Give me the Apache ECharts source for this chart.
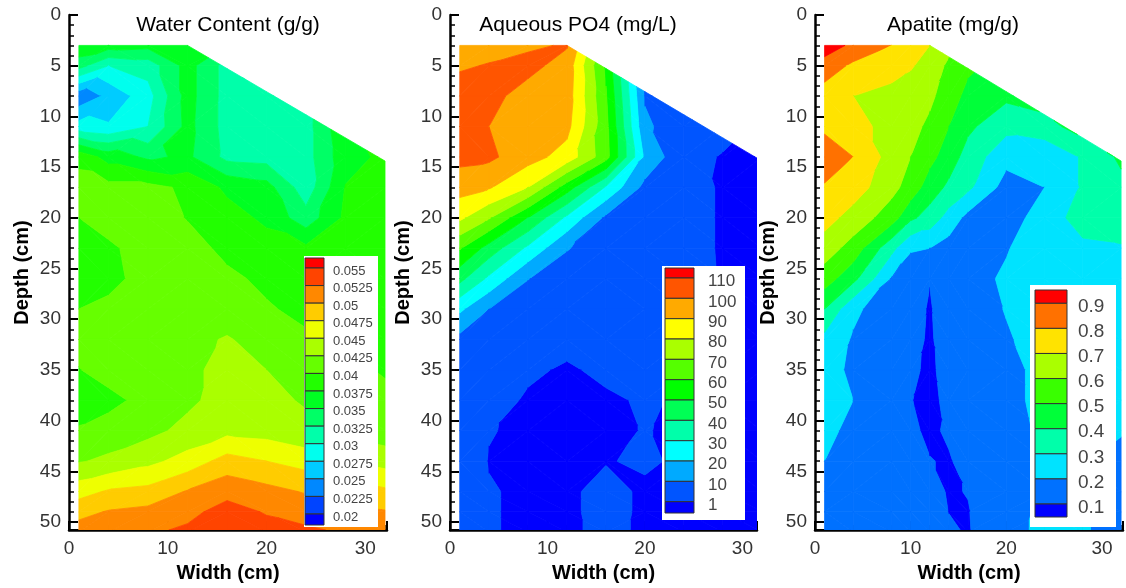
<!DOCTYPE html>
<html><head><meta charset="utf-8">
<script src="https://cdn.jsdelivr.net/npm/echarts@6/dist/echarts.min.js"></script>
<style>html,body{margin:0;padding:0;background:#fff}#c{width:1126px;height:588px}</style>
</head><body><div id="c"></div>
<script>
// ---------- data ----------
const X_NODES = [1, 4, 8, 12, 16, 20, 24, 28, 32];
const APATITE_X_NODES = [1, 4, 8, 10, 12, 14, 16, 20, 24, 28, 32];
const Y_NODES = [3, 5, 8, 11, 14, 17, 20, 23, 26, 29, 32, 35, 38, 41, 44, 47, 49, 51];

const WATER_LEVELS = [0.02, 0.0225, 0.025, 0.0275, 0.03, 0.0325, 0.035, 0.0375, 0.04, 0.0425, 0.045, 0.0475, 0.05, 0.0525, 0.055];
const WATER = [
  [0.0370, 0.0362, 0.0358, 0.0365, 0.0350, 0.0340, 0.0350, 0.0365, 0.0370],
  [0.0335, 0.0300, 0.0310, 0.0360, 0.0315, 0.0315, 0.0340, 0.0368, 0.0370],
  [0.0232, 0.0256, 0.0290, 0.0360, 0.0315, 0.0315, 0.0315, 0.0370, 0.0372],
  [0.0285, 0.0278, 0.0300, 0.0358, 0.0315, 0.0315, 0.0315, 0.0372, 0.0375],
  [0.0393, 0.0365, 0.0345, 0.0355, 0.0318, 0.0315, 0.0315, 0.0366, 0.0380],
  [0.0410, 0.0408, 0.0408, 0.0395, 0.0370, 0.0360, 0.0310, 0.0376, 0.0382],
  [0.0400, 0.0410, 0.0410, 0.0399, 0.0385, 0.0370, 0.0335, 0.0380, 0.0385],
  [0.0390, 0.0396, 0.0410, 0.0408, 0.0395, 0.0385, 0.0380, 0.0385, 0.0385],
  [0.0390, 0.0394, 0.0408, 0.0412, 0.0404, 0.0396, 0.0390, 0.0390, 0.0390],
  [0.0400, 0.0405, 0.0415, 0.0415, 0.0412, 0.0402, 0.0395, 0.0393, 0.0393],
  [0.0408, 0.0415, 0.0416, 0.0418, 0.0427, 0.0415, 0.0403, 0.0396, 0.0395],
  [0.0399, 0.0410, 0.0413, 0.0420, 0.0432, 0.0425, 0.0415, 0.0405, 0.0398],
  [0.0390, 0.0393, 0.0408, 0.0420, 0.0435, 0.0430, 0.0423, 0.0413, 0.0405],
  [0.0402, 0.0410, 0.0418, 0.0432, 0.0443, 0.0440, 0.0430, 0.0418, 0.0410],
  [0.0423, 0.0430, 0.0443, 0.0460, 0.0485, 0.0475, 0.0465, 0.0450, 0.0440],
  [0.0465, 0.0478, 0.0483, 0.0502, 0.0517, 0.0508, 0.0498, 0.0485, 0.0480],
  [0.0492, 0.0502, 0.0507, 0.0518, 0.0535, 0.0523, 0.0515, 0.0505, 0.0502],
  [0.0512, 0.0518, 0.0522, 0.0530, 0.0542, 0.0535, 0.0530, 0.0523, 0.0515]
];

const PO4_LEVELS = [1, 10, 20, 30, 40, 50, 60, 70, 80, 90, 100, 110];
const PO4 = [
  [95, 97, 98.5, 100.8, 45, 8, 5, 2, 0.5],
  [99, 100.5, 103, 96, 58, 7, 4, 2, 0.5],
  [104, 103, 96, 95, 61, 9, 4, 2, 0.5],
  [104, 100, 95, 93, 63, 12, 3, 2, 0.5],
  [103, 102, 94, 86, 64, 18, 2, 0.8, 0.5],
  [94, 91, 80, 55, 29, 7, 2.5, 0.6, 0.4],
  [82, 71, 50, 28, 8, 4.5, 2.5, 0.6, 0.4],
  [61, 46, 28, 10.5, 5.5, 4, 2.5, 0.6, 0.4],
  [43, 28, 10.2, 5.5, 5, 4.5, 2.5, 0.7, 0.4],
  [22, 10, 6, 5, 5, 4.5, 2.5, 0.8, 0.4],
  [7, 6, 4.5, 2.5, 4, 4, 2, 0.8, 0.4],
  [5, 4.5, 1.8, 0.4, 2.0, 3.5, 1.5, 0.6, 0.4],
  [5, 3, 0.4, 0.3, 0.3, 1.5, 0.5, 0.4, 0.4],
  [5, 1.2, 0.3, 0.2, 0.3, 1.15, 0.4, 0.4, 0.4],
  [4, 0.8, 0.3, 0.3, 0.8, 1.5, 0.4, 0.4, 0.4],
  [4, 1.3, 0.3, 0.3, 2.2, 0.4, 0.4, 0.4, 0.4],
  [4, 1.3, 0.3, 0.3, 2.2, 0.4, 0.4, 0.4, 0.4],
  [4, 1.3, 0.3, 0.3, 2.0, 0.4, 0.4, 0.4, 0.4]
];

const APATITE_LEVELS = [0.1, 0.2, 0.3, 0.4, 0.5, 0.6, 0.7, 0.8, 0.9];
const APATITE = [
  [0.95, 0.88, 0.80, 0.75, 0.70, 0.63, 0.58, 0.50, 0.46, 0.45, 0.45],
  [0.86, 0.78, 0.74, 0.71, 0.66, 0.58, 0.52, 0.46, 0.45, 0.45, 0.45],
  [0.75, 0.70, 0.67, 0.65, 0.62, 0.55, 0.47, 0.42, 0.45, 0.45, 0.45],
  [0.78, 0.74, 0.66, 0.63, 0.58, 0.50, 0.42, 0.33, 0.36, 0.45, 0.46],
  [0.86, 0.80, 0.66, 0.60, 0.53, 0.45, 0.36, 0.23, 0.22, 0.31, 0.42],
  [0.79, 0.75, 0.63, 0.56, 0.45, 0.38, 0.32, 0.16, 0.20, 0.31, 0.37],
  [0.74, 0.66, 0.55, 0.42, 0.36, 0.26, 0.17, 0.15, 0.25, 0.34, 0.36],
  [0.65, 0.56, 0.33, 0.21, 0.20, 0.16, 0.14, 0.19, 0.29, 0.28, 0.29],
  [0.55, 0.43, 0.19, 0.14, 0.102, 0.14, 0.15, 0.22, 0.26, 0.27, 0.26],
  [0.40, 0.22, 0.14, 0.12, 0.095, 0.13, 0.15, 0.205, 0.25, 0.26, 0.26],
  [0.27, 0.19, 0.13, 0.12, 0.092, 0.13, 0.15, 0.19, 0.24, 0.26, 0.26],
  [0.24, 0.18, 0.13, 0.11, 0.09, 0.12, 0.14, 0.17, 0.23, 0.25, 0.25],
  [0.25, 0.20, 0.13, 0.102, 0.085, 0.115, 0.15, 0.17, 0.23, 0.25, 0.25],
  [0.23, 0.17, 0.14, 0.11, 0.09, 0.108, 0.14, 0.16, 0.22, 0.24, 0.22],
  [0.20, 0.16, 0.15, 0.13, 0.102, 0.095, 0.12, 0.15, 0.22, 0.22, 0.12],
  [0.17, 0.15, 0.15, 0.14, 0.12, 0.095, 0.102, 0.15, 0.22, 0.22, 0.12],
  [0.16, 0.15, 0.15, 0.145, 0.13, 0.099, 0.097, 0.16, 0.22, 0.22, 0.12],
  [0.16, 0.15, 0.15, 0.15, 0.14, 0.11, 0.095, 0.17, 0.22, 0.22, 0.12]
];

const TITLES = ['Water Content (g/g)', 'Aqueous PO4 (mg/L)', 'Apatite (mg/g)'];
const X_NAME = 'Width (cm)';
const Y_NAME = 'Depth (cm)';
const X_MAX = [32.2, 31.5, 32.2];   // right edge of each sample box (cm)
const Y_MAX = 50.8;                // bottom of the box (cm)
const TOP_DEPTH = 3;               // soil surface depth (cm)
const SLOPE_START_X = 12;          // where the sloped surface starts (cm)
const SLOPE = 0.57;                // surface slope (cm depth per cm width)

// ---------- helpers ----------
const FONT = "'Liberation Sans', Arial, sans-serif";
function rainbow(t) {
  let r, g, b;
  if (t < 0.25) { r = 0; g = t / 0.25; b = 1; }
  else if (t < 0.5) { r = 0; g = 1; b = 1 - (t - 0.25) / 0.25; }
  else if (t < 0.75) { r = (t - 0.5) / 0.25; g = 1; b = 0; }
  else { r = 1; g = 1 - (t - 0.75) / 0.25; b = 0; }
  return 'rgb(' + Math.round(r * 255) + ',' + Math.round(g * 255) + ',' + Math.round(b * 255) + ')';
}
function palette(n) { const c = []; for (let k = 0; k < n; k++) c.push(rainbow(k / (n - 1))); return c; }

function lerp(a, b, t) { return { x: a.x + t * (b.x - a.x), y: a.y + t * (b.y - a.y), v: a.v + t * (b.v - a.v) }; }
function clip(poly, f) {
  const out = [];
  for (let i = 0; i < poly.length; i++) {
    const cur = poly[i], prev = poly[(i + poly.length - 1) % poly.length];
    const fc = f(cur), fp = f(prev);
    if (fc >= 0) {
      if (fp < 0) out.push(lerp(prev, cur, fp / (fp - fc)));
      out.push(cur);
    } else if (fp >= 0) {
      out.push(lerp(prev, cur, fp / (fp - fc)));
    }
  }
  return out;
}

function cellsFor(values, xs) {
  const out = [];
  for (let j = 0; j < Y_NODES.length - 1; j++)
    for (let i = 0; i < xs.length - 1; i++)
      out.push([xs[i], xs[i + 1], Y_NODES[j], Y_NODES[j + 1],
        values[j][i], values[j][i + 1], values[j + 1][i], values[j + 1][i + 1]]);
  return out;
}

function makeRender(levels, colors, xMax) {
  return function (params, api) {
    const x0 = api.value(0), x1 = api.value(1), y0 = api.value(2), y1 = api.value(3);
    const A = { x: x0, y: y0, v: api.value(4) }, B = { x: x1, y: y0, v: api.value(5) };
    const D = { x: x0, y: y1, v: api.value(6) }, C = { x: x1, y: y1, v: api.value(7) };
    const tris = Math.abs(A.v - C.v) <= Math.abs(B.v - D.v) ? [[A, B, C], [A, C, D]] : [[A, B, D], [B, C, D]];
    const children = [];
    for (const tri of tris) {
      for (let k = 0; k <= levels.length; k++) {
        let poly = tri;
        if (k > 0) poly = clip(poly, p => p.v - levels[k - 1]);
        if (poly.length < 3) continue;
        if (k < levels.length) poly = clip(poly, p => levels[k] - p.v);
        if (poly.length < 3) continue;
        poly = clip(poly, p => xMax - p.x);
        poly = clip(poly, p => Y_MAX - p.y);
        poly = clip(poly, p => p.y - TOP_DEPTH - SLOPE * (p.x - SLOPE_START_X));
        poly = clip(poly, p => p.y - TOP_DEPTH);
        if (poly.length < 3) continue;
        children.push({
          type: 'polygon',
          shape: { points: poly.map(p => api.coord([p.x, p.y])) },
          style: { fill: colors[k], stroke: colors[k], lineWidth: 0.8 }
        });
      }
    }
    return { type: 'group', children };
  };
}

function legendGraphics(levels, colors, L) {
  const els = [];
  els.push({ type: 'rect', z: 100, shape: { x: L.boxX, y: L.boxY, width: L.boxW, height: L.boxH }, style: { fill: '#fff' } });
  const n = levels.length;
  const step = (L.bLast - L.b0) / (n - 1);
  const edges = [L.top];
  for (let i = 0; i < n; i++) edges.push(L.b0 + i * step);
  edges.push(L.bot);
  for (let s = 0; s < edges.length - 1; s++) {
    const k = n - s;
    els.push({ type: 'rect', z: 101, shape: { x: L.swX, y: edges[s], width: L.swW, height: edges[s + 1] - edges[s] },
      style: { fill: colors[k], stroke: '#333', lineWidth: 1 } });
  }
  for (let i = 0; i < n; i++) {
    els.push({ type: 'text', z: 102, x: L.labelX, y: L.b0 + i * step + L.dy,
      style: { text: String(levels[n - 1 - i]), font: L.font + 'px ' + FONT, fill: '#444', align: 'left', verticalAlign: 'middle' } });
  }
  return els;
}

// ---------- layout ----------
const GRIDS = [
  { left: 69, top: 15, width: 318, height: 520 },
  { left: 450, top: 15, width: 307, height: 520 },
  { left: 815, top: 15, width: 310, height: 520 }
];
const TITLE_POS = [[228, 25], [578, 25], [953, 25]];
const LEGENDS = [
  { boxX: 304, boxY: 256, boxW: 74, boxH: 271, swX: 305, swW: 19, top: 258, b0: 268, bLast: 514, bot: 525, labelX: 333, font: 13, dy: 3 },
  { boxX: 662, boxY: 266, boxW: 83, boxH: 254, swX: 665, swW: 29, top: 268, b0: 278, bLast: 501.7, bot: 513, labelX: 708, font: 17, dy: 3.5 },
  { boxX: 1030, boxY: 285, boxW: 86, boxH: 242, swX: 1035, swW: 32, top: 290, b0: 303.3, bLast: 504, bot: 517, labelX: 1078, font: 19, dy: 3.5 }
];

const FIELDS = [WATER, PO4, APATITE];
const FIELD_X = [X_NODES, X_NODES, APATITE_X_NODES];
const LEVELS = [WATER_LEVELS, PO4_LEVELS, APATITE_LEVELS];

const xAxes = [], yAxes = [], series = [];
let graphic = [];
for (let p = 0; p < 3; p++) {
  const colors = palette(LEVELS[p].length + 1);
  xAxes.push({
    gridIndex: p, type: 'value', min: 0, max: X_MAX[p], interval: 10,
    axisLine: { onZero: false, lineStyle: { color: '#000', width: 2.5 } },
    axisTick: { inside: true, length: 9, lineStyle: { color: '#000', width: 2 } },
    minorTick: { show: true, splitNumber: 5, length: 5, lineStyle: { color: '#000', width: 1.5 } },
    axisLabel: { formatter: v => (Math.abs(v % 10) < 1e-9 ? String(v) : ''), color: '#333', fontSize: 19, margin: 9, fontFamily: FONT },
    splitLine: { show: false },
    name: X_NAME, nameLocation: 'middle', nameGap: 28,
    nameTextStyle: { fontWeight: 'bold', fontSize: 20, color: '#000', fontFamily: FONT }
  });
  yAxes.push({
    gridIndex: p, type: 'value', min: 0, max: Y_MAX, interval: 5, inverse: true,
    axisLine: { onZero: false, lineStyle: { color: '#000', width: 2.5 } },
    axisTick: { inside: true, length: 9, lineStyle: { color: '#000', width: 2 } },
    minorTick: { show: true, splitNumber: 5, length: 5, lineStyle: { color: '#000', width: 1.5 } },
    axisLabel: { formatter: v => (Math.abs(v % 5) < 1e-9 ? String(v) : ''), color: '#333', fontSize: 19, margin: 8, fontFamily: FONT },
    splitLine: { show: false },
    name: Y_NAME, nameLocation: 'middle', nameGap: 37,
    nameTextStyle: { fontWeight: 'bold', fontSize: 20, color: '#000', fontFamily: FONT }
  });
  series.push({
    type: 'custom', xAxisIndex: p, yAxisIndex: p, clip: true, silent: true,
    encode: { x: [0, 1], y: [2, 3] },
    renderItem: makeRender(LEVELS[p], colors, X_MAX[p]),
    data: cellsFor(FIELDS[p], FIELD_X[p])
  });
  graphic.push({ type: 'text', z: 100, x: TITLE_POS[p][0], y: TITLE_POS[p][1],
    style: { text: TITLES[p], font: '21px ' + FONT, fill: '#000', align: 'center', verticalAlign: 'middle' } });
  graphic = graphic.concat(legendGraphics(LEVELS[p], colors, LEGENDS[p]));
}

const chart = echarts.init(document.getElementById('c'), null, { renderer: 'canvas' });
chart.setOption({
  animation: false,
  backgroundColor: '#fff',
  grid: GRIDS,
  xAxis: xAxes,
  yAxis: yAxes,
  series: series,
  graphic: graphic
});
</script>
</body></html>
